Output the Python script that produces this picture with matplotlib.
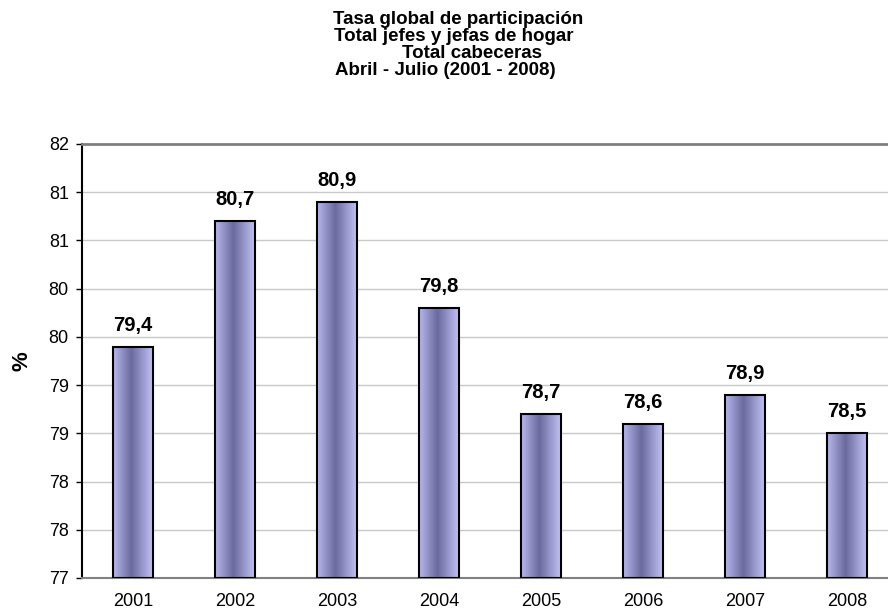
import numpy as np
import matplotlib
matplotlib.use('Agg')
import matplotlib.pyplot as plt
from matplotlib.colors import LinearSegmentedColormap
from matplotlib.ticker import FuncFormatter, MultipleLocator

plt.rcParams['font.family'] = ['Liberation Sans', 'DejaVu Sans']

# Data
years = ['2001', '2002', '2003', '2004', '2005', '2006', '2007', '2008']
values = [79.4, 80.7, 80.9, 79.8, 78.7, 78.6, 78.9, 78.5]
title_lines = ['Tasa global de participación', 'Total jefes y jefas de hogar',
               'Total cabeceras', 'Abril - Julio (2001 - 2008)']

W, H = 888, 610
fig = plt.figure(figsize=(W / 100, H / 100), dpi=100)
ax = fig.add_axes([82 / W, 1 - 578 / H, 816 / W, 434 / H])

ymin, ymax = 77, 81.5
x = np.arange(len(years))
width = 0.4

# Horizontal gradient for the bars
cmap = LinearSegmentedColormap.from_list(
    'bar', [(0.0, '#b8b8ec'), (0.45, '#6a6a9e'), (1.0, '#c6c6fa')])
grad = np.linspace(0, 1, 256).reshape(1, -1)

bars = ax.bar(x, [v - ymin for v in values], width=width, bottom=ymin,
              facecolor='none', edgecolor='black', linewidth=1.5, zorder=3)
for b in bars:
    im = ax.imshow(grad, cmap=cmap, aspect='auto', zorder=2,
                   extent=[b.get_x(), b.get_x() + b.get_width(), ymin, b.get_y() + b.get_height()])
    im.set_clip_path(b)

# Value labels
for xi, v in zip(x, values):
    ax.text(xi, v + 0.165, f'{v:.1f}'.replace('.', ','), ha='center', va='baseline',
            fontsize=14.5, fontweight='bold')

ax.set_xlim(-0.5, len(years) - 0.5)
ax.set_ylim(ymin, ymax)
ax.set_xticks(x)
ax.set_xticklabels(years, fontsize=13)
ax.tick_params(axis='x', length=0, pad=11)
ax.yaxis.set_major_locator(MultipleLocator(0.5))
ax.yaxis.set_major_formatter(FuncFormatter(lambda v, p: f'{int(np.floor(v + 0.5))}'))
ax.tick_params(axis='y', length=4.5, width=1, labelsize=13, pad=5)
ax.grid(axis='y', color='#c8c8c8', linewidth=1)
ax.set_axisbelow(True)

ax.spines['right'].set_visible(False)
ax.spines['top'].set_color('#808080')
ax.spines['top'].set_linewidth(2)
ax.spines['bottom'].set_color('#808080')
ax.spines['bottom'].set_linewidth(1.5)
ax.spines['left'].set_linewidth(1.5)

ax.set_ylabel('%', fontsize=16, fontweight='bold')
ax.yaxis.set_label_coords(-0.061, 0.5)

# Title, one line at a time
title_x = [458, 454, 472, 445]
title_base = [24, 41, 58, 75]
for line, tx, ty in zip(title_lines, title_x, title_base):
    fig.text(tx / W, 1 - ty / H, line, ha='center', va='baseline',
             fontsize=13.5, fontweight='bold')

fig.savefig('out.png', dpi=100)
